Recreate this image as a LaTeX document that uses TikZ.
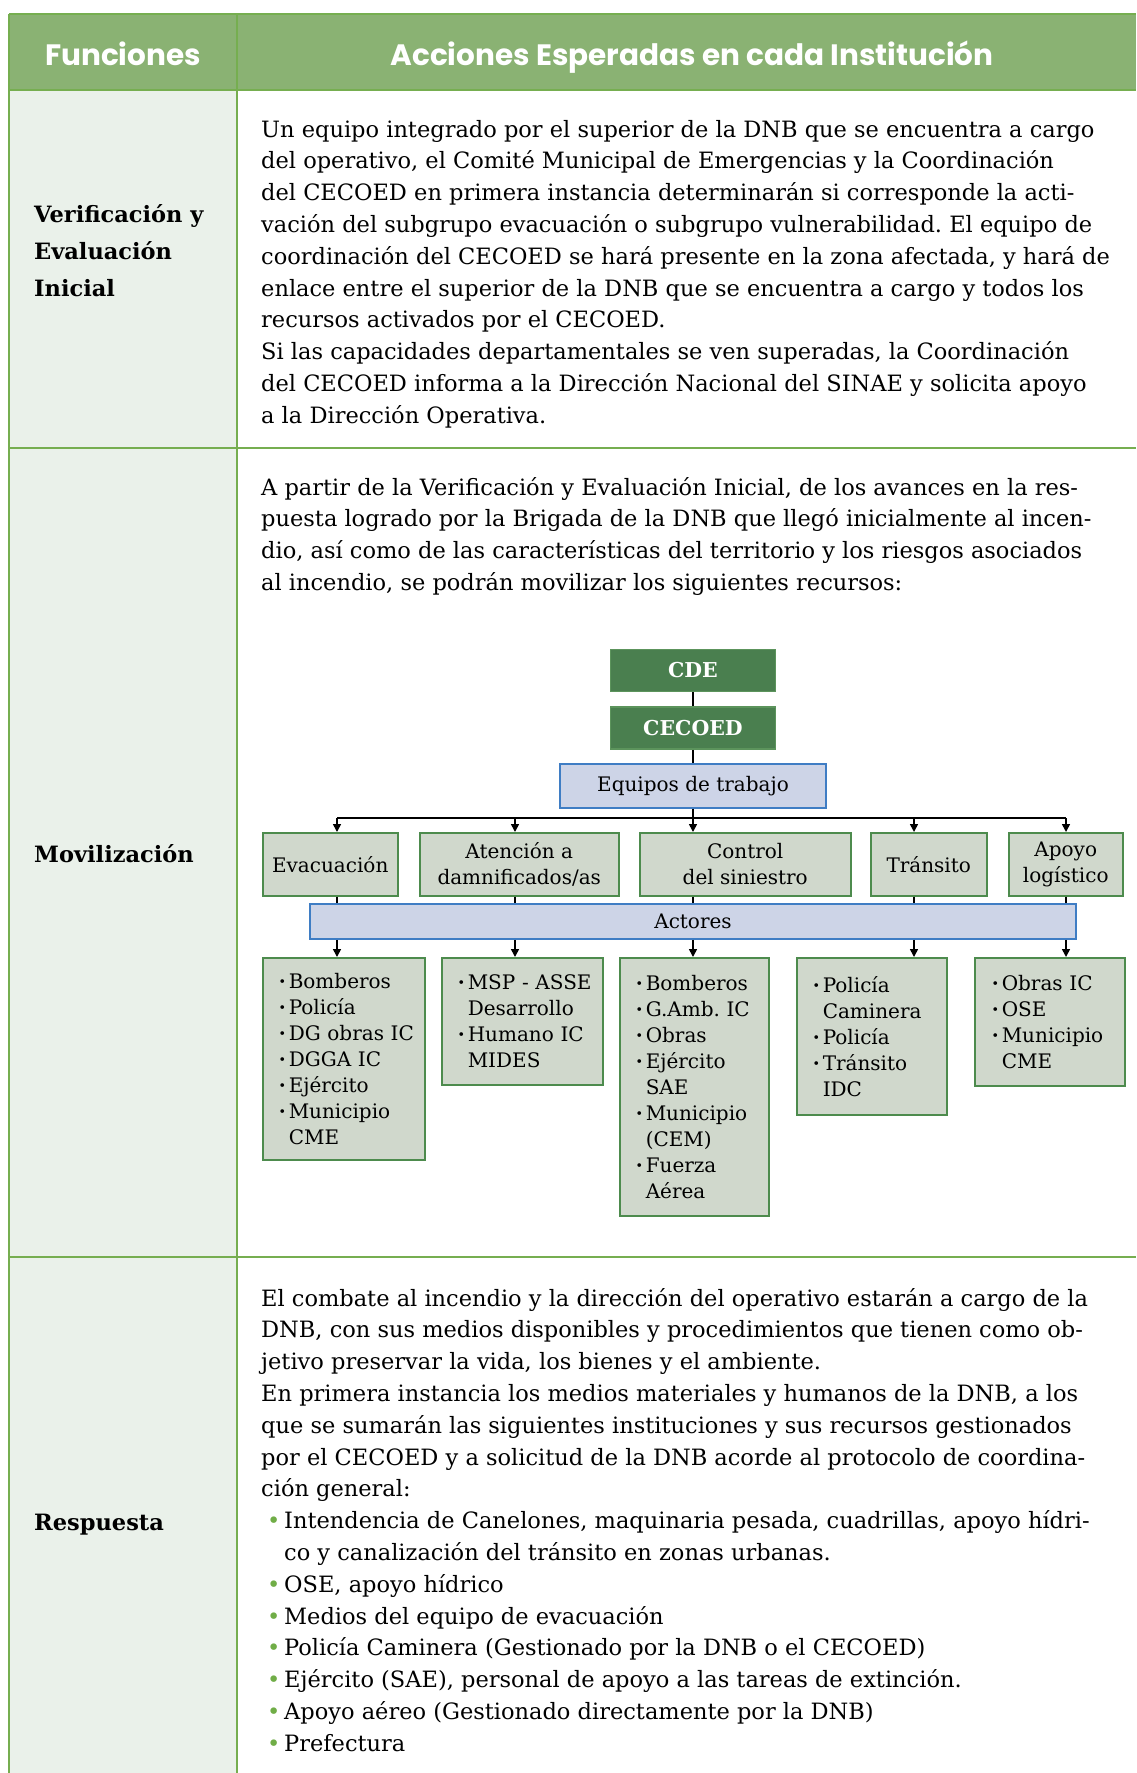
\documentclass[tikz,border=0pt]{standalone}
\usepackage{fontspec}
\setmainfont{DejaVu Serif}
\newfontfamily\headfont{Poppins}
\usetikzlibrary{positioning,arrows.meta}
\frenchspacing

\definecolor{headgreen}{HTML}{8AB273}
\definecolor{rulegreen}{HTML}{76AE50}
\definecolor{leftfill}{HTML}{EAF1EA}
\definecolor{darkbox}{HTML}{4A7F4F}
\definecolor{darkedge}{HTML}{5C945C}
\definecolor{bluefill}{HTML}{CDD4E7}
\definecolor{blueedge}{HTML}{3F7DC4}
\definecolor{greyfill}{HTML}{D0D8CC}
\definecolor{greyedge}{HTML}{4D8B4D}
\definecolor{dotgreen}{HTML}{70AD47}

\newcommand{\bodysize}{\fontsize{22.5}{31.8}\selectfont}
\newcommand{\boxsize}{\fontsize{20}{26}\selectfont}
\newcommand{\dotitem}[1]{\makebox[10pt][l]{\textbf{·}}\mbox{#1}}
\newcommand{\dotcont}[1]{\hspace*{10pt}\mbox{#1}}
\newcommand{\gitem}[1]{\hspace*{6pt}\makebox[17pt][l]{\textcolor{dotgreen}{•}}#1}
\newcommand{\gcont}[1]{\hspace*{23pt}#1}

\tikzset{
  rule/.style={draw=rulegreen, line width=2pt},
  headtxt/.style={text=white, anchor=base, font=\headfont\bfseries\fontsize{29.5}{34}\selectfont},
  para/.style={anchor=north west, align=left, inner sep=0pt, font=\bodysize},
  rowhead/.style={anchor=north west, align=left, inner sep=0pt,
    font=\bfseries\fontsize{22.5}{37.3}\selectfont},
  topbox/.style={fill=darkbox, draw=darkedge, line width=1.5pt, text=white,
    font=\bfseries\fontsize{20.5}{26}\selectfont, minimum width=165pt, minimum height=42pt, inner sep=0pt},
  bluebox/.style={fill=bluefill, draw=blueedge, line width=1.8pt,
    font=\boxsize, inner sep=0pt},
  teambox/.style={fill=greyfill, draw=greyedge, line width=1.5pt, align=center,
    font=\boxsize, minimum height=63pt, inner sep=0pt},
  actorlist/.style={fill=greyfill, draw=greyedge, line width=1.5pt, anchor=north west,
    align=left, font=\boxsize, inner xsep=16pt, inner ysep=0pt},
  link/.style={line width=1.6pt},
  arrowlink/.style={link, -{Triangle[length=8pt,width=8pt]}}
}

\begin{document}
\begin{tikzpicture}[x=1pt, y=-1pt]
  \useasboundingbox (0,0) rectangle (1136,1773);

  % Table background
  \fill[headgreen] (9,13.5) rectangle (1136,90);
  \fill[leftfill] (9,90) rectangle (237,1773);
  \draw[rule] (9,13.5) -- (1136,13.5);
  \draw[rule] (9,90) -- (1136,90);
  \draw[rule] (9,448) -- (1136,448);
  \draw[rule] (9,1257) -- (1136,1257);
  \draw[rule] (9,13.5) -- (9,1773);
  \draw[rule] (237,13.5) -- (237,1773);

  % Header
  \node[headtxt] (hFun) at (123,65) {Funciones};
  \node[headtxt] (hAcc) at (692,65) {Acciones Esperadas en cada Institución};

  % Row titles
  \node[rowhead] (tVer) at (34,195.9) {\strut Verificación y\\Evaluación\\Inicial};
  \node[rowhead, anchor=base west] (tMov) at (34,862) {Movilización};
  \node[rowhead, anchor=base west] (tRes) at (34,1530) {Respuesta};

  % Row texts
  \node[para] (pVer) at (261,114.7) {\strut Un equipo integrado por el superior de la DNB que se encuentra a cargo\\
    del operativo, el Comité Municipal de Emergencias y la Coordinación\\
    del CECOED en primera instancia determinarán si corresponde la acti-\\
    vación del subgrupo evacuación o subgrupo vulnerabilidad. El equipo de\\
    coordinación del CECOED se hará presente en la zona afectada, y hará de\\
    enlace entre el superior de la DNB que se encuentra a cargo y todos los\\
    recursos activados por el CECOED.\\
    Si las capacidades departamentales se ven superadas, la Coordinación\\
    del CECOED informa a la Dirección Nacional del SINAE y solicita apoyo\\
    a la Dirección Operativa.};
  \node[para] (pMov) at (261,472.7) {\strut A partir de la Verificación y Evaluación Inicial, de los avances en la res-\\
    puesta logrado por la Brigada de la DNB que llegó inicialmente al incen-\\
    dio, así como de las características del territorio y los riesgos asociados\\
    al incendio, se podrán movilizar los siguientes recursos:};
  \node[para] (pRes) at (261,1283.7) {\strut El combate al incendio y la dirección del operativo estarán a cargo de la\\
    DNB, con sus medios disponibles y procedimientos que tienen como ob-\\
    jetivo preservar la vida, los bienes y el ambiente.\\
    En primera instancia los medios materiales y humanos de la DNB, a los\\
    que se sumarán las siguientes instituciones y sus recursos gestionados\\
    por el CECOED y a solicitud de la DNB acorde al protocolo de coordina-\\
    ción general:\\
    \gitem{Intendencia de Canelones, maquinaria pesada, cuadrillas, apoyo hídri-}\\
    \gcont{co y canalización del tránsito en zonas urbanas.}\\
    \gitem{OSE, apoyo hídrico}\\
    \gitem{Medios del equipo de evacuación}\\
    \gitem{Policía Caminera (Gestionado por la DNB o el CECOED)}\\
    \gitem{Ejército (SAE), personal de apoyo a las tareas de extinción.}\\
    \gitem{Apoyo aéreo (Gestionado directamente por la DNB)}\\
    \gitem{Prefectura}};

  % Chart: top boxes
  \node[topbox] (cde) at (693,670.5) {CDE};
  \node[topbox, below=14pt of cde] (cecoed) {CECOED};
  \node[bluebox, below=13pt of cecoed, minimum width=266pt, minimum height=44pt] (equipos) {Equipos de trabajo};

  % Work teams
  \node[teambox, anchor=north west, minimum width=135pt] (evac) at (262,832) {Evacuación};
  \node[teambox, right=20.5pt of evac, minimum width=199pt] (aten) {Atención a\\damnificados/as};
  \node[teambox, right=19.5pt of aten, minimum width=211pt] (ctrl) {Control\\del siniestro};
  \node[teambox, right=18.5pt of ctrl, minimum width=116pt] (tran) {Tránsito};
  \node[teambox, right=20.5pt of tran, minimum width=114pt] (apoyo) {Apoyo\\logístico};

  \node[bluebox, minimum width=766pt, minimum height=35pt] (actores) at (693,921.5) {Actores};

  % Actor lists
  \node[actorlist, text width=130pt, minimum height=202pt] (lEvac) at (262,957)
    {\dotitem{Bomberos}\\\dotitem{Policía}\\\dotitem{DG obras IC}\\\dotitem{DGGA IC}\\
     \dotitem{Ejército}\\\dotitem{Municipio}\\\dotcont{CME}};
  \node[actorlist, text width=129pt, minimum height=127pt] (lAten) at (441,957)
    {\dotitem{MSP - ASSE}\\\dotcont{Desarrollo}\\\dotitem{Humano IC}\\\dotcont{MIDES}};
  \node[actorlist, text width=117pt, minimum height=258pt] (lCtrl) at (619,957)
    {\dotitem{Bomberos}\\\dotitem{G.Amb. IC}\\\dotitem{Obras}\\\dotitem{Ejército}\\
     \dotcont{SAE}\\\dotitem{Municipio}\\\dotcont{(CEM)}\\\dotitem{Fuerza}\\\dotcont{Aérea}};
  \node[actorlist, text width=118pt, minimum height=157pt] (lTran) at (796,957)
    {\dotitem{Policía}\\\dotcont{Caminera}\\\dotitem{Policía}\\\dotitem{Tránsito}\\\dotcont{IDC}};
  \node[actorlist, text width=116pt, minimum height=128pt, inner xsep=17pt] (lApoyo) at (974,957)
    {\dotitem{Obras IC}\\\dotitem{OSE}\\\dotitem{Municipio}\\\dotcont{CME}};

  % Connectors
  \coordinate (k1) at (337,818);
  \coordinate (k2) at (515,818);
  \coordinate (k3) at (693,818);
  \coordinate (k4) at (914,818);
  \coordinate (k5) at (1066,818);

  \draw[link] (cde) -- (cecoed);
  \draw[link] (cecoed) -- (equipos);
  \draw[link] (equipos.south) -- (k3);
  \draw[link] (k1) -- (k5);
  \foreach \col/\team/\lst in {k1/evac/lEvac, k2/aten/lAten, k3/ctrl/lCtrl,
                               k4/tran/lTran, k5/apoyo/lApoyo} {
    \draw[arrowlink] (\col) -- (\col |- \team.north);
    \draw[link] (\col |- \team.south) -- (\col |- actores.north);
    \draw[arrowlink] (\col |- actores.south) -- (\col |- \lst.north);
  }
\end{tikzpicture}
\end{document}
